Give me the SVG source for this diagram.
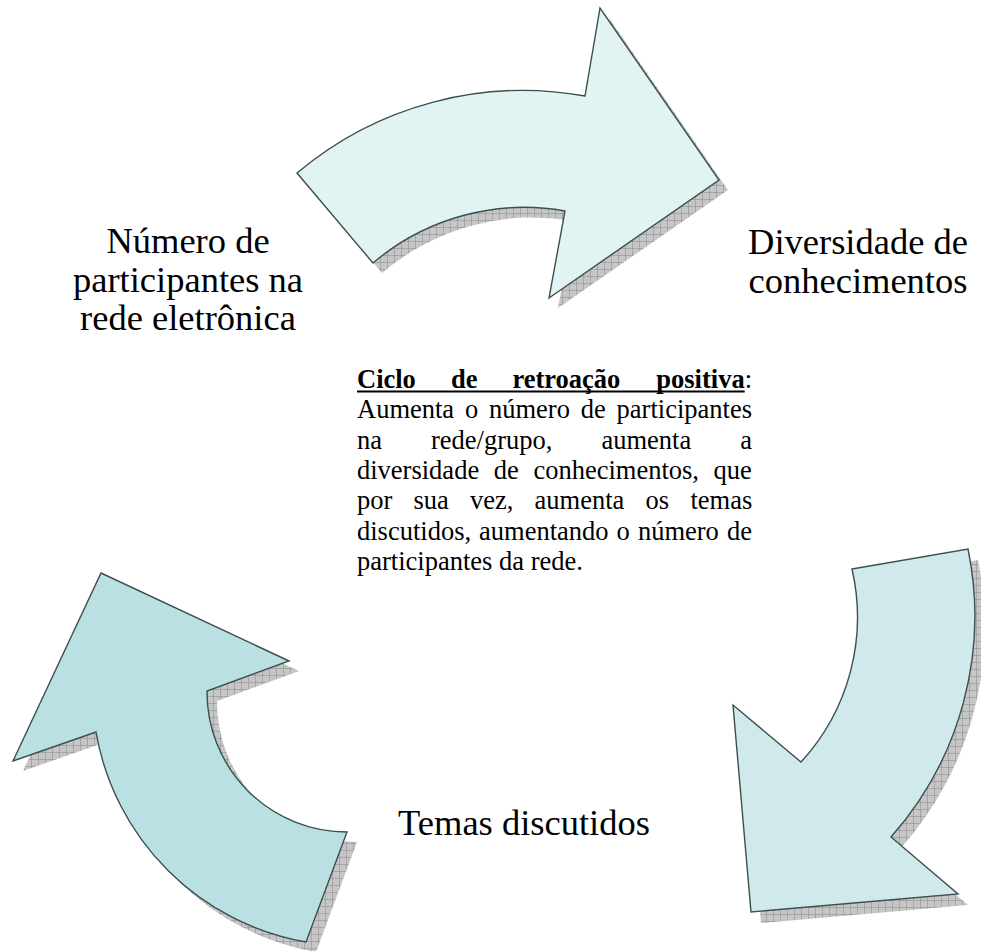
<svg xmlns="http://www.w3.org/2000/svg" xmlns:xlink="http://www.w3.org/1999/xlink" width="981" height="951" viewBox="0 0 981 951">
<style>
.lbl{font-family:"Liberation Serif","Times New Roman",serif;font-size:36.5px;fill:#000;text-anchor:middle}
.p{font-family:"Liberation Serif","Times New Roman",serif;font-size:26.5px;fill:#000}
.b{font-weight:bold}
.arrow{stroke:#3c4f4f;stroke-width:1.4;stroke-linejoin:miter}
.shadow{fill:url(#hatch);stroke:none}
</style>
<defs>
<pattern id="hatch" width="7" height="7" patternUnits="userSpaceOnUse">
<rect width="7" height="7" fill="#c6c6c6"/>
<path d="M0 0.3H7M0.3 0V7" stroke="#8c8c8c" stroke-width="0.7"/>
</pattern>
<path id="pTop" d="M 297 173 A 350 350 0 0 1 585 96 L 600 8 L 719 180 L 549 298 L 565 211 A 233 233 0 0 0 373 263 Z"/>
<path id="pRight" d="M 852 569 L 968 549 A 333 333 0 0 1 891 837 L 958 894 L 751 912 L 733 705 L 801 762 A 214 214 0 0 0 852 569 Z"/>
<path id="pLeft" d="M 101 573 L 289 661 L 207 691 A 140 140 0 0 0 347 832 L 306 942 A 258 258 0 0 1 96 732 L 13 761 Z"/>
</defs>
<rect width="981" height="951" fill="#fff"/>
<g id="connectors">
<g id="arrow-top">
<use xlink:href="#pTop" href="#pTop" class="shadow" transform="translate(9,10)"/>
<use xlink:href="#pTop" href="#pTop" class="arrow" fill="#e2f3f3"/>
</g>
<g id="arrow-right">
<use xlink:href="#pRight" href="#pRight" class="shadow" transform="translate(10,11)"/>
<use xlink:href="#pRight" href="#pRight" class="arrow" fill="#d0eaeb"/>
</g>
<g id="arrow-left">
<use xlink:href="#pLeft" href="#pLeft" class="shadow" transform="translate(10,10)"/>
<use xlink:href="#pLeft" href="#pLeft" class="arrow" fill="#bbe0e3"/>
</g>
</g>
<g id="node-participantes">
<text class="lbl" x="188" y="253">Número de</text>
<text class="lbl" x="188" y="291.5">participantes na</text>
<text class="lbl" x="188" y="330">rede eletrônica</text>
</g>
<g id="node-diversidade">
<text class="lbl" x="858" y="254">Diversidade de</text>
<text class="lbl" x="858" y="292.5">conhecimentos</text>
</g>
<g id="node-temas">
<text class="lbl" x="524" y="835">Temas discutidos</text>
</g>
<g id="note">
<text class="p b" x="357" y="388">Ciclo</text>
<text class="p b" x="451" y="388">de</text>
<text class="p b" x="512.4" y="388">retroação</text>
<text class="p b" x="656.3" y="388">positiva</text>
<text class="p" x="744.7" y="388">:</text>
<rect x="357" y="390.5" width="387.7" height="2" fill="#000"/>
<text class="p" x="357" y="418.3">Aumenta</text>
<text class="p" x="464.9" y="418.3">o</text>
<text class="p" x="489" y="418.3">número</text>
<text class="p" x="580.8" y="418.3">de</text>
<text class="p" x="616.6" y="418.3">participantes</text>
<text class="p" x="357" y="448.6">na</text>
<text class="p" x="431" y="448.6">rede/grupo,</text>
<text class="p" x="601.4" y="448.6">aumenta</text>
<text class="p" x="740.2" y="448.6">a</text>
<text class="p" x="357" y="478.9">diversidade</text>
<text class="p" x="493.8" y="478.9">de</text>
<text class="p" x="533.4" y="478.9">conhecimentos,</text>
<text class="p" x="713.6" y="478.9">que</text>
<text class="p" x="357" y="509.2">por</text>
<text class="p" x="413.5" y="509.2">sua</text>
<text class="p" x="470" y="509.2">vez,</text>
<text class="p" x="534.6" y="509.2">aumenta</text>
<text class="p" x="645.6" y="509.2">os</text>
<text class="p" x="690.4" y="509.2">temas</text>
<text class="p" x="357" y="539.5">discutidos,</text>
<text class="p" x="479.1" y="539.5">aumentando</text>
<text class="p" x="616.6" y="539.5">o</text>
<text class="p" x="637.9" y="539.5">número</text>
<text class="p" x="726.9" y="539.5">de</text>
<text class="p" x="357" y="569.8">participantes da rede.</text>
</g>
</svg>
